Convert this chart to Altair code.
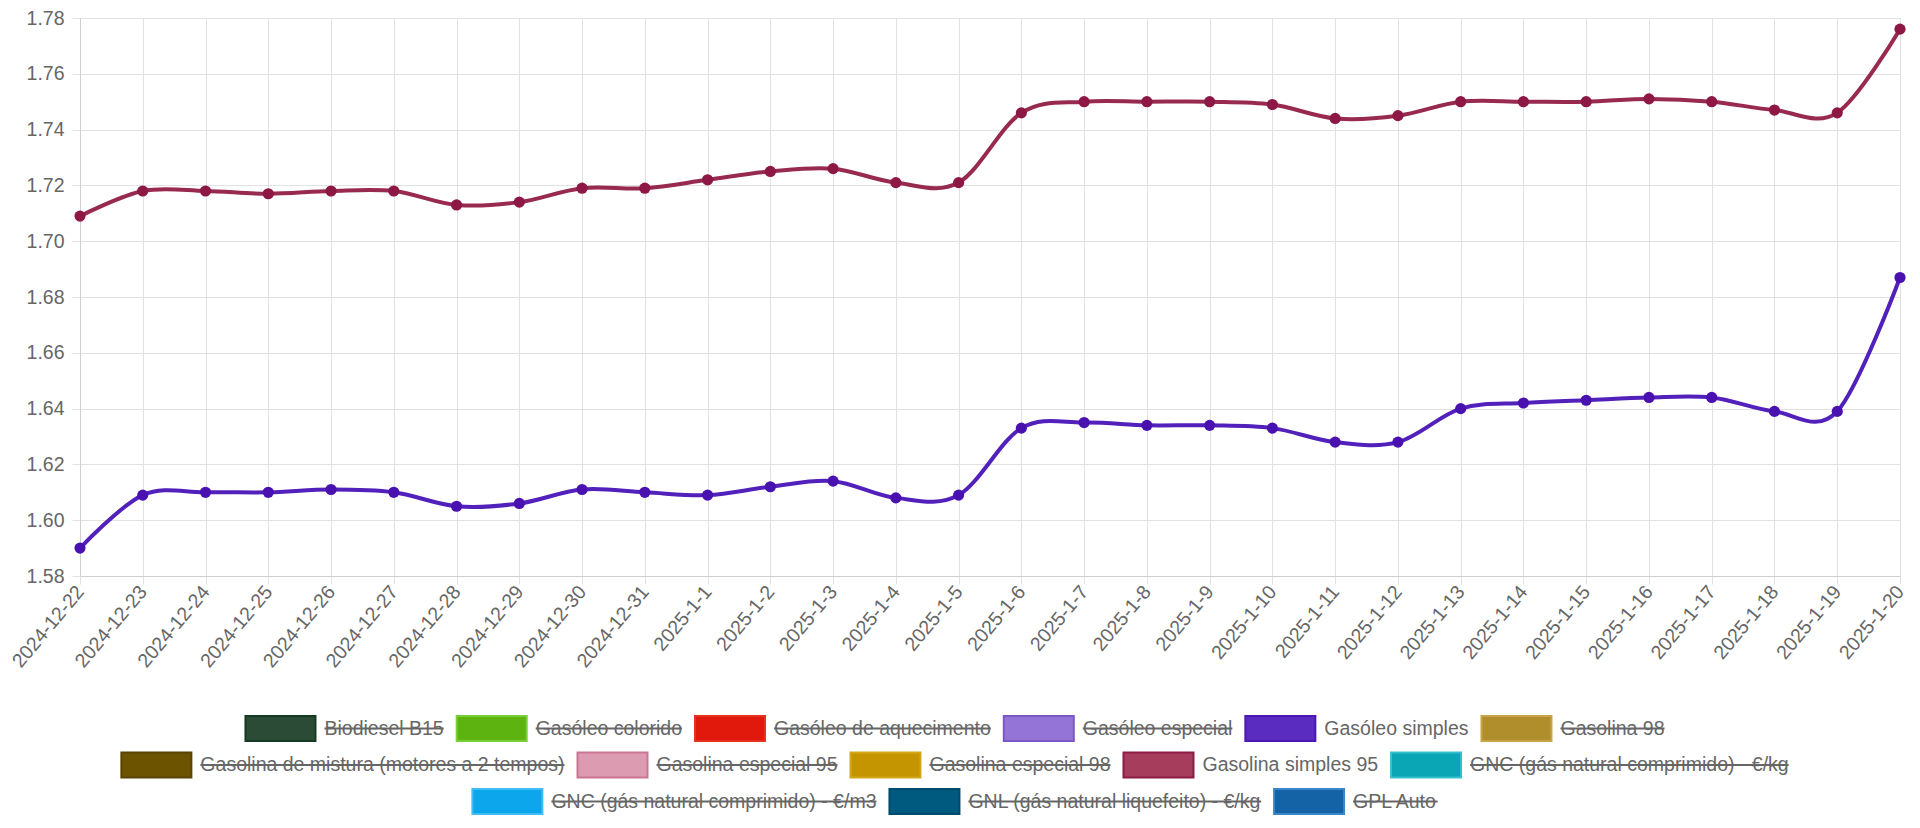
import altair as alt
import pandas as pd

# ---------------- data ----------------
dates = [
    "2024-12-22", "2024-12-23", "2024-12-24", "2024-12-25", "2024-12-26",
    "2024-12-27", "2024-12-28", "2024-12-29", "2024-12-30", "2024-12-31",
    "2025-1-1", "2025-1-2", "2025-1-3", "2025-1-4", "2025-1-5",
    "2025-1-6", "2025-1-7", "2025-1-8", "2025-1-9", "2025-1-10",
    "2025-1-11", "2025-1-12", "2025-1-13", "2025-1-14", "2025-1-15",
    "2025-1-16", "2025-1-17", "2025-1-18", "2025-1-19", "2025-1-20",
]

gasolina_simples_95 = [
    1.709, 1.718, 1.718, 1.717, 1.718, 1.718, 1.713, 1.714, 1.719, 1.719,
    1.722, 1.725, 1.726, 1.721, 1.721, 1.746, 1.750, 1.750, 1.750, 1.749,
    1.744, 1.745, 1.750, 1.750, 1.750, 1.751, 1.750, 1.747, 1.746, 1.776,
]

gasoleo_simples = [
    1.590, 1.609, 1.610, 1.610, 1.611, 1.610, 1.605, 1.606, 1.611, 1.610,
    1.609, 1.612, 1.614, 1.608, 1.609, 1.633, 1.635, 1.634, 1.634, 1.633,
    1.628, 1.628, 1.640, 1.642, 1.643, 1.644, 1.644, 1.639, 1.639, 1.687,
]

y_ticks = [1.58, 1.60, 1.62, 1.64, 1.66, 1.68, 1.70, 1.72, 1.74, 1.76, 1.78]

legend_labels = [
    "Biodiesel B15", "Gasóleo colorido", "Gasóleo de aquecimento",
    "Gasóleo especial", "Gasóleo simples", "Gasolina 98",
    "Gasolina de mistura (motores a 2 tempos)", "Gasolina especial 95",
    "Gasolina especial 98", "Gasolina simples 95",
    "GNC (gás natural comprimido) - €/kg",
    "GNC (gás natural comprimido) - €/m3",
    "GNL (gás natural liquefeito) - €/kg", "GPL Auto",
]
legend_visible = [False, False, False, False, True, False,
                  False, False, False, True, False,
                  False, False, False]
legend_rows = [0, 0, 0, 0, 0, 0, 1, 1, 1, 1, 1, 2, 2, 2]

# ---------------- styles ----------------
legend_fill = ["#2b4b36", "#5db410", "#e0190c", "#9474d6", "#5a2cc0", "#b08e2c",
               "#6b5300", "#dc9bb0", "#c59500", "#a63d5d", "#0ba6b6",
               "#0ba6ec", "#00597f", "#1463a6"]
legend_border = ["#163b24", "#78cf38", "#e83020", "#7c58c6", "#4a18b2", "#c7a448",
                 "#5a4500", "#cb7594", "#d4a61a", "#8c1c45", "#34c0cc",
                 "#40bdf3", "#004a6c", "#3a86c8"]

LINE_COLORS = {"Gasolina simples 95": "#98294f", "Gasóleo simples": "#5220ba"}
POINT_COLORS = {"Gasolina simples 95": "#8d1745", "Gasóleo simples": "#4912b0"}

FONT = "Liberation Sans"
FS = 19.5
TXT = "#666666"
GRID = "#e2e2e2"

PAD_L, PAD_T, PAD_R, PAD_B = 72, 10, 12, 240
W, H = 1820, 558

# ---------------- main series ----------------
rows = []
for name, vals in [("Gasolina simples 95", gasolina_simples_95),
                   ("Gasóleo simples", gasoleo_simples)]:
    for d, v in zip(dates, vals):
        rows.append({"date": d, "series": name, "value": v,
                     "lc": LINE_COLORS[name], "pc": POINT_COLORS[name]})
df = pd.DataFrame(rows)

x_enc = alt.X("date:N", sort=dates, title=None,
              scale=alt.Scale(type="point", padding=0),
              axis=alt.Axis(labelAngle=-50, labelAlign="right", labelBaseline="middle",
                            labelFontSize=FS, labelFont=FONT, labelColor=TXT,
                            labelPadding=4, tickSize=8, tickColor=GRID,
                            grid=True, gridColor=GRID, domainColor="#cfcfcf",
                            labelOverlap=False))
y_enc = alt.Y("value:Q", title=None,
              scale=alt.Scale(domain=[1.58, 1.78], nice=False, zero=False),
              axis=alt.Axis(values=y_ticks, format=".2f", labelFontSize=FS,
                            labelFont=FONT, labelColor=TXT, labelPadding=8,
                            tickSize=8, tickColor=GRID, grid=True, gridColor=GRID,
                            domainColor="#cfcfcf"))

base = alt.Chart(df).encode(x=x_enc, y=y_enc, detail="series:N")
lines = base.mark_line(interpolate="cardinal", strokeWidth=4).encode(
    stroke=alt.Stroke("lc:N", scale=None))
points = base.mark_circle(size=125, opacity=1).encode(
    fill=alt.Fill("pc:N", scale=None))
main = alt.layer(lines, points)

# ---------------- legend (Chart.js-like, centered rows) ----------------
AW = {
    " ": 278, "(": 333, ")": 333, "-": 333, "/": 278, "€": 556,
    "A": 667, "B": 667, "C": 722, "D": 722, "E": 667, "F": 611, "G": 778,
    "H": 722, "I": 278, "J": 500, "K": 667, "L": 556, "M": 833, "N": 722,
    "O": 778, "P": 667, "Q": 778, "R": 722, "S": 667, "T": 611, "U": 722,
    "a": 556, "b": 556, "c": 500, "d": 556, "e": 556, "f": 278, "g": 556,
    "h": 556, "i": 222, "j": 222, "k": 500, "l": 222, "m": 833, "n": 556,
    "o": 556, "p": 556, "q": 556, "r": 333, "s": 500, "t": 278, "u": 556,
    "v": 500, "w": 722, "x": 500, "y": 500, "z": 500, "á": 556, "ó": 556,
}


def text_w(s):
    return sum(AW.get(c, 556) for c in s) / 1000.0 * FS


BOX_W, BOX_H, TXT_GAP, ITEM_GAP = 70, 25, 9, 13
CENTER_X = 955 - (8 + PAD_L)          # page centre, relative to plot left
ROW0_Y, ROW_STEP = 728.5 - (8 + PAD_T), 36.5

leg = []
for r in sorted(set(legend_rows)):
    idx = [i for i, rr in enumerate(legend_rows) if rr == r]
    widths = [BOX_W + TXT_GAP + text_w(legend_labels[i]) for i in idx]
    total = sum(widths) + ITEM_GAP * (len(idx) - 1)
    x = CENTER_X - total / 2
    yc = ROW0_Y + ROW_STEP * r
    for i, w in zip(idx, widths):
        leg.append({
            "label": legend_labels[i], "fill": legend_fill[i],
            "border": legend_border[i], "hidden": not legend_visible[i],
            "bx0": x, "bx1": x + BOX_W, "by0": yc - BOX_H / 2, "by1": yc + BOX_H / 2,
            "tx": x + BOX_W + TXT_GAP, "sx1": x + w, "ty": yc,
        })
        x += w + ITEM_GAP
dfl = pd.DataFrame(leg)

lx = alt.Scale(domain=[0, W], nice=False, zero=False)
ly = alt.Scale(domain=[0, H], nice=False, zero=False, reverse=True)

boxes = alt.Chart(dfl).mark_rect(strokeWidth=2).encode(
    x=alt.X("bx0:Q", scale=lx, axis=None), x2="bx1:Q",
    y=alt.Y("by0:Q", scale=ly, axis=None), y2="by1:Q",
    fill=alt.Fill("fill:N", scale=None), stroke=alt.Stroke("border:N", scale=None))
labels = alt.Chart(dfl).mark_text(align="left", baseline="middle", fontSize=FS,
                                  font=FONT, color=TXT).encode(
    x=alt.X("tx:Q", scale=lx, axis=None), y=alt.Y("ty:Q", scale=ly, axis=None),
    text="label:N")
strikes = alt.Chart(dfl).transform_filter("datum.hidden").mark_rule(
    strokeWidth=2, color=TXT).encode(
    x=alt.X("tx:Q", scale=lx, axis=None), x2="sx1:Q",
    y=alt.Y("ty:Q", scale=ly, axis=None))
legend = alt.layer(boxes, labels, strikes)

chart = alt.layer(main, legend).resolve_scale(
    x="independent", y="independent"
).properties(
    width=W, height=H,
    autosize=alt.AutoSizeParams(type="none"),
    padding={"left": PAD_L, "top": PAD_T, "right": PAD_R, "bottom": PAD_B},
).configure_view(strokeWidth=0).configure(background="white")

chart.save("out.html", embed_options={"renderer": "svg", "actions": False})
